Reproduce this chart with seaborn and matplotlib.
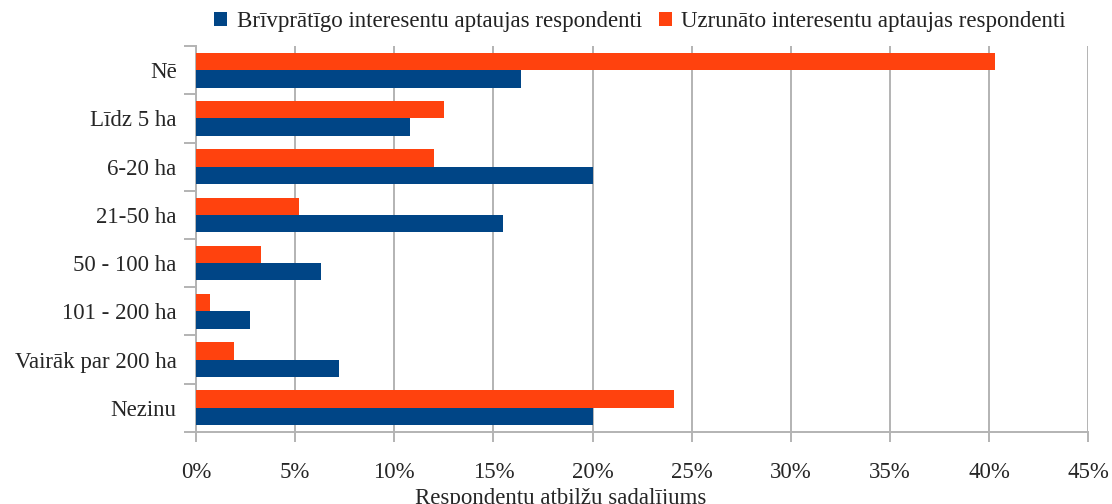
import pandas as pd
import matplotlib
matplotlib.use('Agg')
import matplotlib.pyplot as plt
import seaborn as sns
from matplotlib.ticker import FixedLocator, PercentFormatter
from matplotlib.patches import Patch

categories = ['Nē', 'Līdz 5 ha', '6-20 ha', '21-50 ha', '50 - 100 ha',
              '101 - 200 ha', 'Vairāk par 200 ha', 'Nezinu']
brivpratigo = [16.4, 10.8, 20.0, 15.5, 6.3, 2.7, 7.2, 20.0]
uzrunato = [40.3, 12.5, 12.0, 5.2, 3.3, 0.7, 1.9, 24.1]
series_names = ['Brīvprātīgo interesentu aptaujas respondenti',
                'Uzrunāto interesentu aptaujas respondenti']
x_ticks = [0, 5, 10, 15, 20, 25, 30, 35, 40, 45]

colors = {series_names[0]: '#004586', series_names[1]: '#FF420E'}

data = pd.DataFrame({
    'kategorija': categories * 2,
    'vertiba': brivpratigo + uzrunato,
    'grupa': [series_names[0]] * len(categories) + [series_names[1]] * len(categories),
})

sns.set_style('white')
plt.rcParams['font.family'] = ['Liberation Serif', 'DejaVu Serif']
plt.rcParams['text.color'] = '#222222'
fs = 16.5

fig = plt.figure(figsize=(11.12, 5.04), dpi=100)
ax = fig.add_axes([0.1763, 0.1429, 0.8022, 0.7658])

# orange goes on top inside each group
sns.barplot(data=data, x='vertiba', y='kategorija', hue='grupa',
            hue_order=[series_names[1], series_names[0]], order=categories,
            palette=colors, orient='h', width=0.72, ax=ax, legend=False,
            saturation=1, edgecolor='none', linewidth=0, zorder=3)

ax.set_xlim(0, 45)
ax.set_ylim(len(categories) - 0.5, -0.5)
ax.set_xticks(x_ticks)
ax.xaxis.set_major_formatter(PercentFormatter(decimals=0))
ax.grid(axis='x', color='#b3b3b3', linewidth=1.4, zorder=0)
ax.grid(axis='y', visible=False)

ax.yaxis.set_minor_locator(FixedLocator([i - 0.5 for i in range(len(categories) + 1)]))
ax.tick_params(axis='y', which='major', length=0, pad=14, labelsize=fs)
ax.tick_params(axis='y', which='minor', left=True, length=9, width=1.4, color='#b3b3b3')
ax.tick_params(axis='x', which='major', bottom=True, length=7.5, width=1.4,
               color='#b3b3b3', pad=14, labelsize=fs)

for side in ['top', 'right']:
    ax.spines[side].set_visible(False)
for side in ['left', 'bottom']:
    ax.spines[side].set_color('#b3b3b3')
    ax.spines[side].set_linewidth(1.4)

ax.set_ylabel('')
ax.set_xlabel('Respondentu atbilžu sadalījums', fontsize=fs)
ax.xaxis.set_label_coords(0.409, -0.145)

handles = [Patch(facecolor=colors[n], edgecolor='none') for n in series_names]
fig.legend(handles, series_names, loc='center', bbox_to_anchor=(0.5755, 0.958),
           ncol=2, frameon=False, fontsize=fs, handlelength=0.57, handleheight=0.57,
           handletextpad=0.4, columnspacing=0.75, borderaxespad=0)

fig.savefig('out.png', dpi=100)
